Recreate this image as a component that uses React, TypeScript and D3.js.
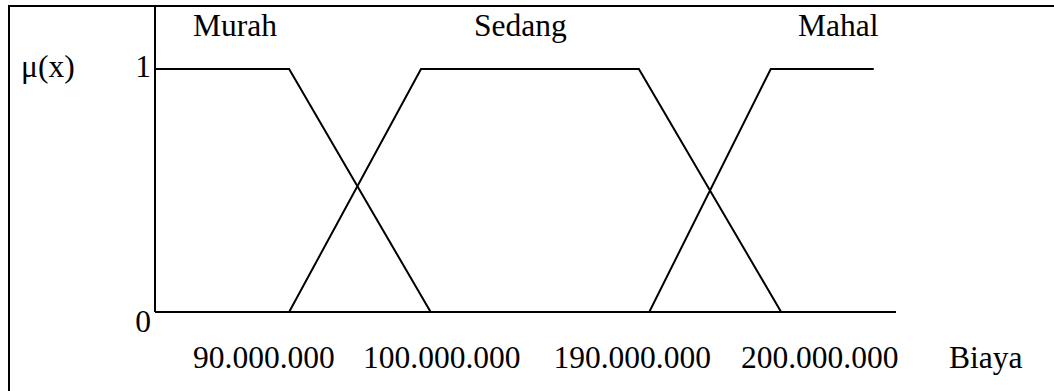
import React from "react";
import * as d3 from "d3";

// Abstract horizontal units (0..100 across the universe of discourse drawing)
const murahX = [0, 18.1, 37.2];
const murahMu = [1, 1, 0];
const sedangX = [18.1, 35.9, 65.3, 84.5];
const sedangMu = [0, 1, 1, 0];
const mahalX = [66.7, 83.1, 97.0];
const mahalMu = [0, 1, 1];

const termNames = ["Murah", "Sedang", "Mahal"];
const termLabelPos = [10.8, 49.3, 92.2];
const tickLabels = ["90.000.000", "100.000.000", "190.000.000", "200.000.000"];
const tickLabelPos = [14.7, 38.7, 64.4, 89.7];
const yTicks = [0, 1];
const axisEnd = 100;

const W = 1054;
const H = 391;
const FONT = "'Liberation Serif', 'Times New Roman', serif";

export default function App() {
  const x = d3.scaleLinear().domain([0, 100]).range([155, 896]);
  const y = d3.scaleLinear().domain([0, 1]).range([312, 69]);
  const line = d3
    .line<[number, number]>()
    .x((d) => x(d[0]))
    .y((d) => y(d[1]));
  const series = [
    murahX.map((v, i) => [v, murahMu[i]] as [number, number]),
    sedangX.map((v, i) => [v, sedangMu[i]] as [number, number]),
    mahalX.map((v, i) => [v, mahalMu[i]] as [number, number]),
  ];
  const fs = 31.5;
  return (
    <svg
      width={W}
      height={H}
      style={{ position: "absolute", left: 0, top: 0, background: "#fff" }}
      fontFamily={FONT}
    >
      <rect x={0} y={0} width={W} height={H} fill="#fff" />
      {/* frame (top and left edges visible) */}
      <path d={`M9,${H + 2}V6H${W + 2}`} fill="none" stroke="#000" strokeWidth={2} />
      {/* vertical axis */}
      <line x1={x(0)} x2={x(0)} y1={6} y2={y(0)} stroke="#000" strokeWidth={2} />
      {/* horizontal axis */}
      <line x1={x(0)} x2={x(axisEnd)} y1={y(0)} y2={y(0)} stroke="#000" strokeWidth={2} />
      {series.map((s, i) => (
        <path key={i} d={line(s) || ""} fill="none" stroke="#000" strokeWidth={2} />
      ))}
      {termNames.map((t, i) => (
        <text key={t} x={x(termLabelPos[i])} y={36} fontSize={fs} textAnchor="middle">
          {t}
        </text>
      ))}
      <text x={21} y={77} fontSize={fs}>μ(x)</text>
      {yTicks.map((v) => (
        <text key={v} x={x(0) - 4} y={y(v) + (v === 1 ? 8 : 20)} fontSize={fs} textAnchor="end">
          {v}
        </text>
      ))}
      {tickLabels.map((t, i) => (
        <text key={t} x={x(tickLabelPos[i])} y={368} fontSize={fs} textAnchor="middle">
          {t}
        </text>
      ))}
      <text x={949} y={368} fontSize={fs}>Biaya</text>
    </svg>
  );
}
